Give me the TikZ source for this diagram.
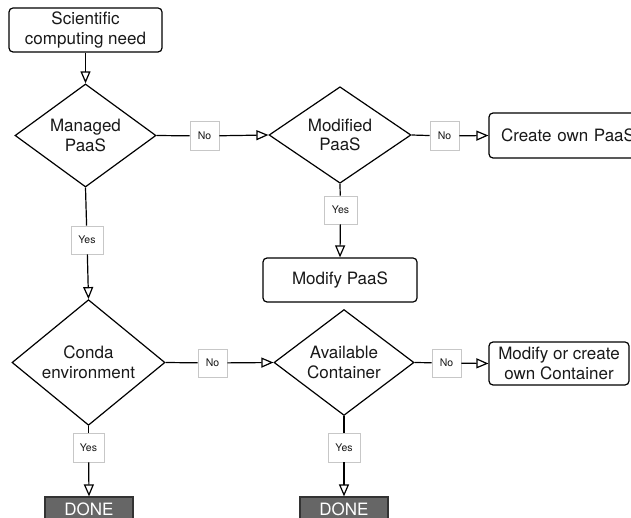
\documentclass[tikz,border=0pt]{standalone}
\usepackage{fontspec}
\setmainfont{TeX Gyre Heros}
\usetikzlibrary{shapes.geometric,arrows.meta}
\begin{document}
\begin{tikzpicture}[x=1pt,y=-1pt,
  every node/.style={font=\fontsize{17}{19.5}\selectfont, text=black!90, align=center},
  box/.style={draw, line width=1.2pt, rounded corners=4pt, fill=white, inner sep=0pt},
  dia/.style={draw, diamond, line width=1.2pt, inner sep=0pt, fill=white},
  lbl/.style={draw=black!22, line width=0.9pt, fill=white, inner sep=0pt, font=\fontsize{10.5}{12}\selectfont},
  done/.style={draw=black!80, line width=1.2pt, fill=black!60, text=white!92, inner sep=0pt, minimum width=88pt, minimum height=24pt},
  con/.style={line width=1.2pt},
  arr/.style={line width=1.2pt, -{Triangle[open, length=12pt, width=10pt, line width=1.2pt]}}
]
\useasboundingbox (0,0) rectangle (631,518);
\clip (0,0) rectangle (631,518);

\node[box, minimum width=153pt, minimum height=44pt] (need) at (85.5,30) {Scientific\\computing need};
\node[dia, minimum width=141pt, minimum height=95pt] (managed) at (85.5,135.5) {Managed\\PaaS};
\node[dia, minimum width=142pt, minimum height=96pt] (modified) at (340,135) {Modified\\PaaS};
\node[box, minimum width=160pt, minimum height=45pt, text width=136pt, align=left] (create) at (569,135.5) {Create own PaaS};
\node[box, minimum width=154pt, minimum height=44pt] (modify) at (340,280) {Modify PaaS};
\node[dia, minimum width=153pt, minimum height=95pt] (conda) at (88.5,362.5) {Conda\\environment};
\node[dia, minimum width=140pt, minimum height=95pt] (avail) at (344,362.5) {Available\\Container};
\node[box, minimum width=140pt, minimum height=43pt] (own) at (559,363.5) {Modify or create\\own Container};
\node[done] (done1) at (89,509) {DONE};
\node[done] (done2) at (344,509) {DONE};

\node[lbl, minimum width=29pt, minimum height=29pt] (no1) at (204.5,136) {No};
\node[lbl, minimum width=29pt, minimum height=29pt] (no2) at (444.5,136) {No};
\node[lbl, minimum width=33pt, minimum height=28pt] (yes2) at (340.5,210) {Yes};
\node[lbl, minimum width=32pt, minimum height=28pt] (yes1) at (87,240) {Yes};
\node[lbl, minimum width=29pt, minimum height=28pt] (no3) at (212.5,363) {No};
\node[lbl, minimum width=29pt, minimum height=28pt] (no4) at (446.5,363) {No};
\node[lbl, minimum width=31pt, minimum height=29pt] (yes3) at (88.5,447.5) {Yes};
\node[lbl, minimum width=32pt, minimum height=29pt] (yes4) at (344,447.5) {Yes};

\draw[arr] (need) -- (managed);
\draw[con] (managed.east) -- (no1);
\draw[arr] (no1) -- (modified.west);
\draw[con] (modified.east) -- (no2);
\draw[arr] (no2) -- (create.west);
\draw[con] (modified.south) -- (yes2);
\draw[arr] (yes2) -- (modify.north);
\draw[con] (managed.south) -- (yes1);
\draw[arr] (yes1) -- (conda.north);
\draw[con] (conda.east) -- (no3);
\draw[arr] (no3) -- (avail.west);
\draw[con] (avail.east) -- (no4);
\draw[arr] (no4) -- (own.west);
\draw[con] (conda.south) -- (yes3);
\draw[arr] (yes3) -- (done1.north);
\draw[con] (avail.south) -- (yes4);
\draw[arr] (yes4) -- (done2.north);
\end{tikzpicture}
\end{document}
